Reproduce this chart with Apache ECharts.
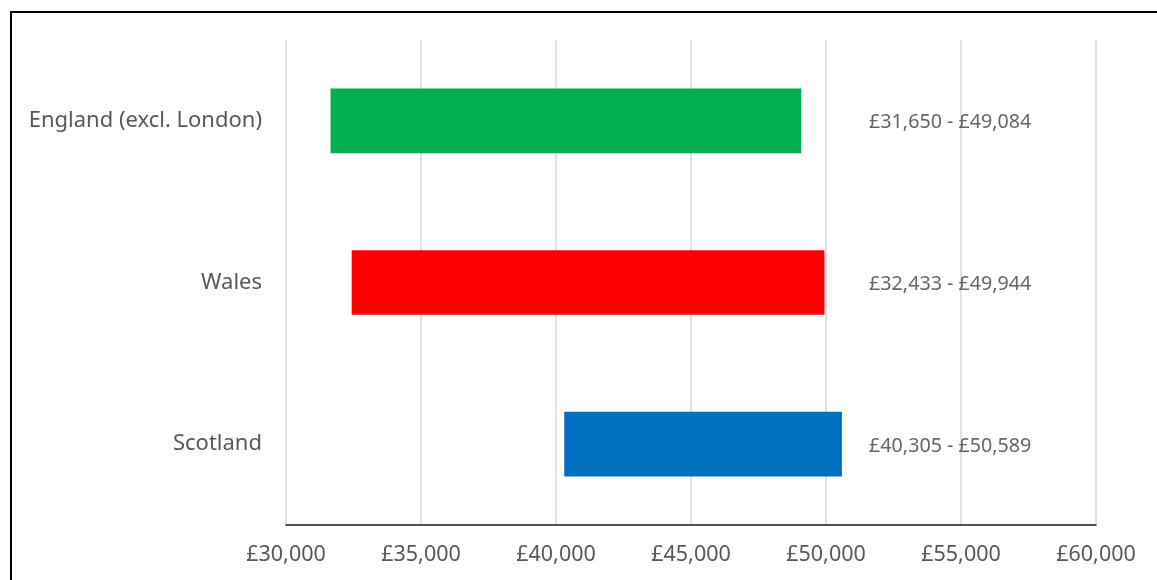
<!DOCTYPE html>
<html>
<head>
<meta charset="utf-8">
<script src="https://cdn.jsdelivr.net/npm/echarts@6/dist/echarts.min.js"></script>
<style>
  html, body { margin: 0; padding: 0; background: #fff; }
  #frame { position: absolute; left: 10px; top: 11px; width: 1160px; height: 600px;
           border: 2px solid #000; box-sizing: border-box; }
  #chart { position: absolute; left: 0; top: 0; width: 1157px; height: 580px; }
</style>
</head>
<body>
<div id="frame"></div>
<div id="chart"></div>
<script>
// Salary ranges by nation
const categories = ['England (excl. London)', 'Wales', 'Scotland'];
const lowValues = [31650, 32433, 40305];
const highValues = [49084, 49944, 50589];
const barColors = ['#00B050', '#FF0000', '#0070C0'];
const tickMin = 30000;
const tickMax = 60000;
const tickStep = 5000;

const money = v => '£' + v.toLocaleString('en-GB');
const FONT = 'Noto Sans';
const LABEL_X = 54600;

const chart = echarts.init(document.getElementById('chart'), null, { renderer: 'canvas' });
chart.setOption({
  animation: false,
  grid: { left: 286, right: 61, top: 40, bottom: 55, containLabel: false },
  xAxis: {
    type: 'value', min: tickMin, max: tickMax, interval: tickStep,
    axisLine: { show: true, lineStyle: { color: '#1a1a1a', width: 1.5 } },
    axisTick: { show: false },
    splitLine: { show: true, lineStyle: { color: '#d9d9d9', width: 1.5 } },
    axisLabel: { color: '#595959', fontSize: 21.5, fontFamily: FONT, margin: 19, formatter: money }
  },
  yAxis: {
    type: 'category', data: categories, inverse: true,
    axisLine: { show: false }, axisTick: { show: false }, splitLine: { show: false },
    axisLabel: { color: '#595959', fontSize: 22, fontFamily: FONT, margin: 24 }
  },
  series: [
    {
      type: 'bar', stack: 'range', barWidth: '40%', silent: true,
      itemStyle: { color: 'transparent' },
      data: lowValues
    },
    {
      type: 'bar', stack: 'range', barWidth: '40%',
      data: highValues.map((h, i) => ({ value: h - lowValues[i], itemStyle: { color: barColors[i] } }))
    },
    {
      type: 'scatter', symbolSize: 0,
      data: categories.map((c, i) => [LABEL_X, c, i]),
      label: {
        show: true, position: 'inside', color: '#404040', fontSize: 19.7, fontFamily: FONT,
        offset: [0, 2],
        formatter: p => money(lowValues[p.data[2]]) + ' - ' + money(highValues[p.data[2]])
      }
    }
  ]
});
</script>
</body>
</html>
